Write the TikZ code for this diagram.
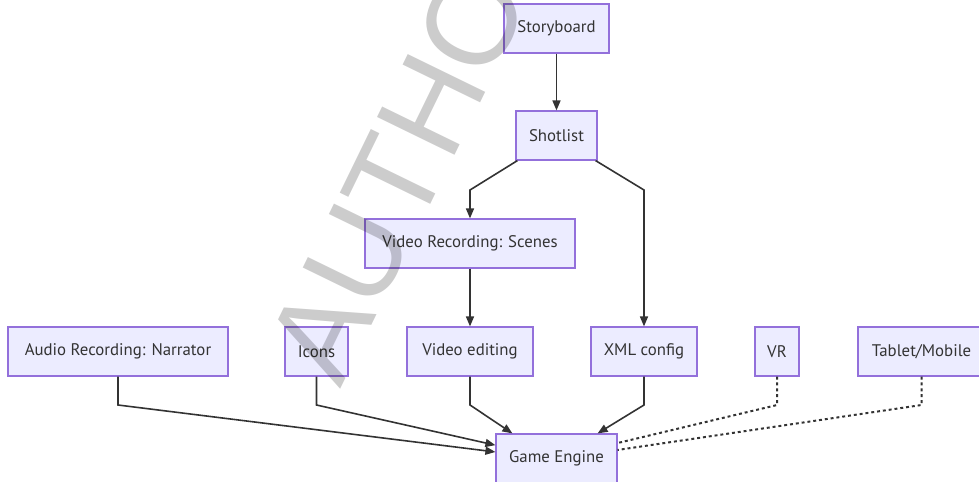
\documentclass[tikz,border=0pt]{standalone}
\usepackage{fontspec}
\setmainfont{PT Sans}
\newfontfamily\wmfont{Liberation Sans}
\usetikzlibrary{arrows.meta}
\definecolor{nodefill}{HTML}{ECECFF}
\definecolor{nodeline}{HTML}{9370DB}
\definecolor{txt}{HTML}{333333}
\definecolor{edgec}{HTML}{333333}
\begin{document}
\begin{tikzpicture}[x=0.75pt,y=-0.75pt,
 box/.style={draw=nodeline, fill=nodefill, line width=0.9pt, text=txt,
   font=\fontsize{12.6}{14}\selectfont, minimum height=36.75pt, inner sep=0pt},
 arr/.style={draw=edgec, line width=1.2pt, -{Triangle[length=7.5pt,width=6pt]}},
 dotl/.style={draw=edgec, line width=1.5pt, dash pattern=on 2.2pt off 2.2pt},
 wm/.style={rotate=64, anchor=base west, inner sep=0pt, text=black, text opacity=0.2,
   font=\wmfont\fontsize{94}{94}\selectfont}
]
\useasboundingbox (0,0) rectangle (979,482);
% nodes
\node[box, minimum width=78.75pt] (sb) at (556.5,28.5) {Storyboard};
\node[box, minimum width=60.75pt] (sl) at (556.5,135.5) {Shotlist};
\node[box, minimum width=157.5pt] (vr) at (470,243.5) {Video Recording: Scenes};
\node[box, minimum width=165pt] (au) at (118,351.5) {Audio Recording: Narrator};
\node[box, minimum width=47.25pt] (ic) at (316.5,351.5) {Icons};
\node[box, minimum width=94.5pt] (ve) at (470,351.5) {Video editing};
\node[box, minimum width=79.5pt] (xml) at (644,351.5) {XML config};
\node[box, minimum width=33pt] (vrr) at (777,351.5) {VR};
\node[box, minimum width=95.25pt] (tab) at (921.5,351.5) {Tablet/Mobile};
\node[box, minimum width=90.75pt] (ge) at (556.5,458.5) {Game Engine};
% bend points
\coordinate (b1) at (470,190);
\coordinate (b2) at (644,190);
\coordinate (b3) at (118,405);
\coordinate (b4) at (316.5,405);
\coordinate (b5) at (470,405);
\coordinate (b6) at (644,405);
\coordinate (b7) at (777,405);
\coordinate (b8) at (921.5,405);
% edges
\draw[arr] (sb) -- (sl);
\draw[arr] ([xshift=1.5pt]sl.south west) -- (b1) -- (vr.north);
\draw[arr] ([xshift=-1.5pt]sl.south east) -- (b2) -- (xml.north);
\draw[arr] (vr) -- (ve);
\draw[arr] (au.south) -- (b3) -- ([yshift=4.9pt]ge.west);
\draw[arr] (ic.south) -- (b4) -- ([yshift=10pt]ge.west);
\draw[arr] (ve.south) -- (b5) -- ([xshift=12.75pt]ge.north west);
\draw[arr] (xml.south) -- (b6) -- ([xshift=-15pt]ge.north east);
\draw[dotl] (vrr.south) -- (b7) -- ([yshift=11.6pt]ge.east);
\draw[dotl] (tab.south) -- (b8) -- ([yshift=6.4pt]ge.east);
% watermark
\node[wm] (mark) at (340,390) {AUTHO};
\end{tikzpicture}
\end{document}
